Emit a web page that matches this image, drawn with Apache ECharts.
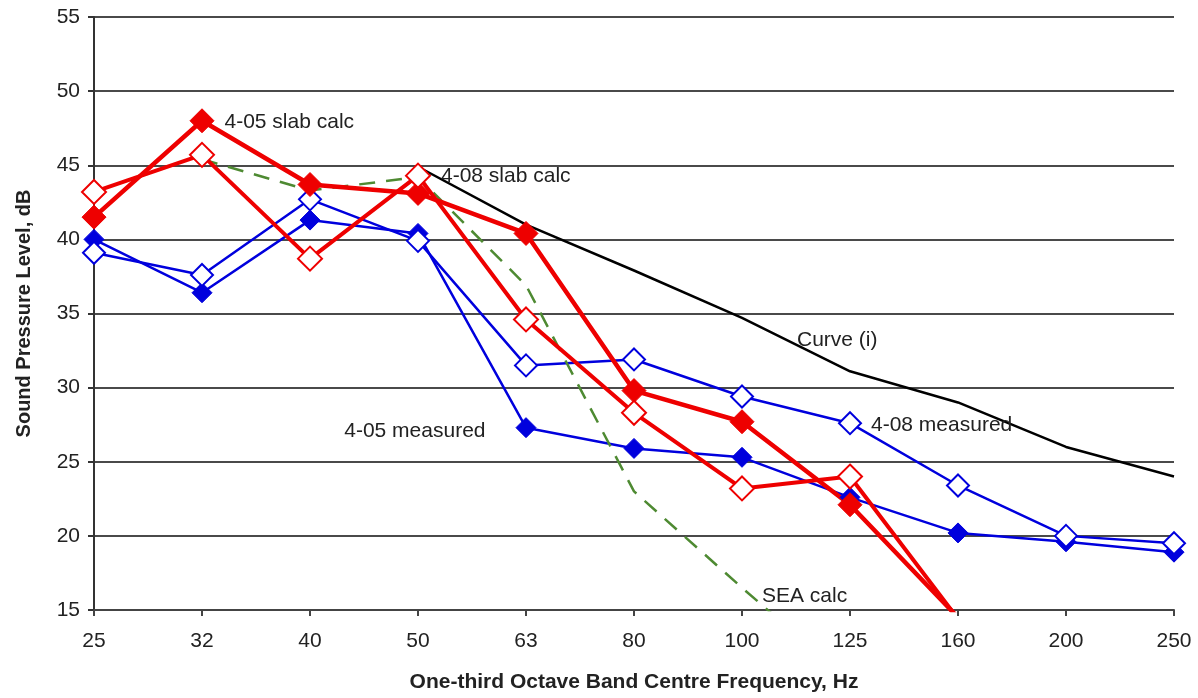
<!DOCTYPE html>
<html>
<head>
<meta charset="utf-8">
<script src="https://cdn.jsdelivr.net/npm/echarts@6/dist/echarts.min.js"></script>
<style>
html,body{margin:0;padding:0;background:#fff;}
#chart{width:1198px;height:698px;}
</style>
</head>
<body>
<div id="chart"></div>
<script>
// ---- data ----
const categories = ['25','32','40','50','63','80','100','125','160','200','250'];
const yTicks = [15,20,25,30,35,40,45,50,55];
const slab405 = [41.5, 48.0, 43.7, 43.1, 40.4, 29.8, 27.7, 22.1, 14.5, null, null];
const slab408 = [43.2, 45.7, 38.7, 44.3, 34.6, 28.3, 23.2, 24.0, 14.4, null, null];
const meas405 = [40.0, 36.4, 41.3, 40.4, 27.3, 25.9, 25.3, 22.6, 20.2, 19.6, 18.9];
const meas408 = [39.1, 37.6, 42.7, 39.9, 31.5, 31.9, 29.4, 27.6, 23.4, 20.0, 19.5];
const curveI  = [null, null, null, 44.9, 41.0, 37.9, 34.7, 31.1, 29.0, 26.0, 24.0];
const seaCalc = [null, 45.4, 43.3, 44.2, 36.9, 23.0, 16.5, 10.2, null, null, null];
const names = ['4-05 measured','4-08 measured','4-05 slab calc','4-08 slab calc','Curve (i)','SEA calc'];

// ---- annotation placement (styles, not data) ----
const annot = {
  '4-05 slab calc': {idx: 1, pos: 'right', dist: 10, off: [0, 1]},
  '4-08 slab calc': {idx: 3, pos: 'right', dist: 10, off: [0, 1]},
  '4-05 measured':  {idx: 4, pos: 'left',  dist: 30, off: [0, 4]},
  '4-08 measured':  {idx: 7, pos: 'right', dist: 9,  off: [0, 2]},
  'Curve (i)':      {idx: 6, pos: 'right', dist: 5,  off: [50, 22]},
  'SEA calc':       {idx: 6, pos: 'right', dist: 5,  off: [15, 8]}
};
const FONT = 'Liberation Sans, Arial, sans-serif';

function buildData(name, arr) {
  const a = annot[name];
  return arr.map((v, i) => {
    if (a && i === a.idx) {
      return {value: v, label: {show: true, formatter: name, position: a.pos, distance: a.dist,
        offset: a.off, color: '#222', fontSize: 21, fontFamily: FONT}};
    }
    return v;
  });
}

const RED = '#ee0000', BLUE = '#0000dd', GREEN = '#4e8a32';

function markerSeries(name, arr, color, filled, lineW, size) {
  return {
    name: name, type: 'line', data: buildData(name, arr),
    symbol: 'diamond', symbolSize: size, showSymbol: true,
    lineStyle: {color: color, width: lineW},
    itemStyle: {color: filled ? color : '#ffffff', borderColor: color, borderWidth: filled ? 1 : 2},
    label: {show: false},
    clip: true, animation: false, connectNulls: false
  };
}
function plainSeries(name, arr, color, type, width) {
  return {
    name: name, type: 'line', data: buildData(name, arr),
    symbol: 'circle', symbolSize: 0, showSymbol: true,
    lineStyle: {color: color, width: width, type: type},
    itemStyle: {color: color},
    label: {show: false},
    clip: true, animation: false
  };
}

const chart = echarts.init(document.getElementById('chart'), null, {renderer: 'canvas'});
chart.setOption({
  backgroundColor: '#ffffff',
  animation: false,
  grid: {left: 94, right: 24, top: 17, bottom: 84, containLabel: false},
  xAxis: {
    type: 'category', data: categories, boundaryGap: false,
    name: 'One-third Octave Band Centre Frequency, Hz', nameLocation: 'middle', nameGap: 62,
    nameTextStyle: {fontFamily: FONT, fontWeight: 'bold', fontSize: 21, color: '#222'},
    axisLine: {show: true, lineStyle: {color: '#444', width: 2}},
    axisTick: {show: true, alignWithLabel: true, length: 6, lineStyle: {color: '#444', width: 2}},
    axisLabel: {fontFamily: FONT, fontSize: 21, color: '#222', margin: 21},
    splitLine: {show: false}
  },
  yAxis: {
    type: 'value', min: 15, max: 55, interval: 5,
    name: 'Sound Pressure Level, dB', nameLocation: 'middle', nameGap: 60, nameRotate: 90,
    nameTextStyle: {fontFamily: FONT, fontWeight: 'bold', fontSize: 20, color: '#222'},
    axisLine: {show: true, lineStyle: {color: '#333', width: 2}},
    axisTick: {show: true, length: 6, lineStyle: {color: '#333', width: 2}},
    axisLabel: {fontFamily: FONT, fontSize: 21, color: '#222', margin: 14,
      formatter: v => yTicks.includes(v) ? String(v) : ''},
    splitLine: {show: true, lineStyle: {color: '#4a4a4a', width: 2}}
  },
  series: [
    markerSeries(names[0], meas405, BLUE, true, 2.5, 20),
    markerSeries(names[1], meas408, BLUE, false, 2.5, 22),
    plainSeries(names[5], seaCalc, GREEN, [16, 11], 2.5),
    plainSeries(names[4], curveI, '#000000', 'solid', 2.5),
    markerSeries(names[2], slab405, RED, true, 4.5, 24),
    markerSeries(names[3], slab408, RED, false, 4, 24)
  ]
});
</script>
</body>
</html>
